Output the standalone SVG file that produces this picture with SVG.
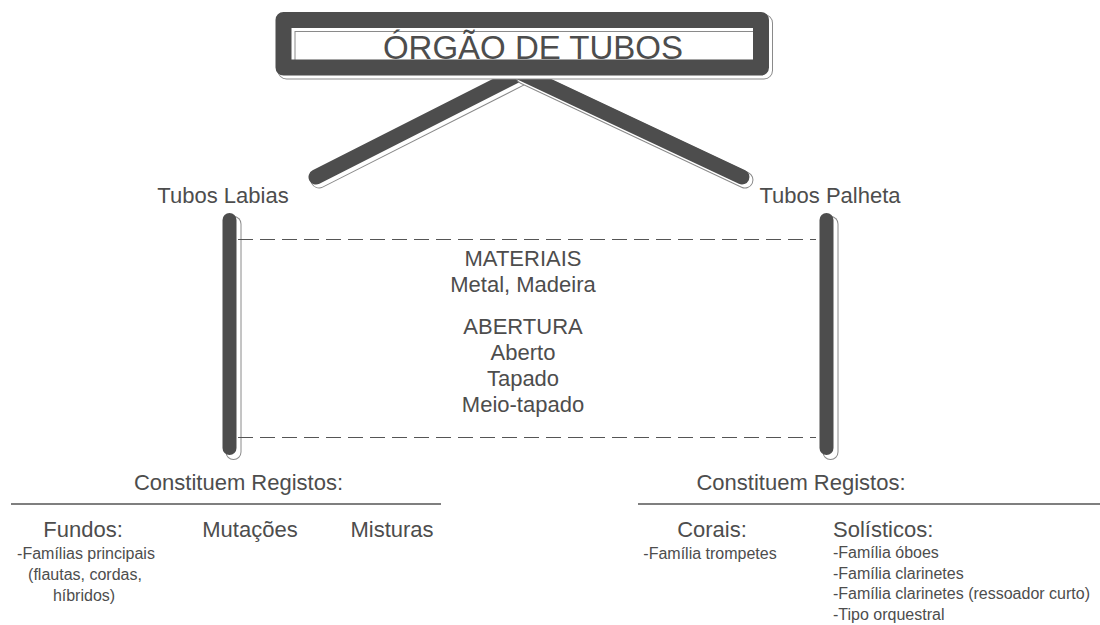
<svg xmlns="http://www.w3.org/2000/svg" width="1100" height="625" viewBox="0 0 1100 625">
<style>
.t{font-family:"Liberation Sans",Arial,sans-serif;fill:#4d4d4d}
.h{font-size:22px}
.s{font-size:16px}
.m{text-anchor:middle}
.so{fill:none;stroke:#8a8a8a;stroke-linecap:round;stroke-linejoin:round}
.si{fill:none;stroke:#ffffff;stroke-linecap:round;stroke-linejoin:round}
.dk{fill:none;stroke:#4d4d4d;stroke-linecap:round;stroke-linejoin:round}
.dash{stroke:#555;stroke-width:1;stroke-dasharray:15 7;fill:none}
.rule{stroke:#555;stroke-width:1.3;fill:none}
</style>
<defs>
<path id="pDL" d="M316,177 L521,73"/>
<path id="pDR" d="M521,73 L742,177"/>
<path id="pVL" d="M229.5,220 L229.5,448"/>
<path id="pVR" d="M826.5,220 L826.5,448"/>
<rect id="pT" x="283.5" y="20" width="477.5" height="47.5"/>
</defs>
<g id="connectors">
  <g id="diag-left">
    <use href="#pDL" class="so" stroke-width="17" transform="translate(3,3)"/>
    <use href="#pDL" class="si" stroke-width="15" transform="translate(3,3)"/>
    <use href="#pDL" class="dk" stroke-width="15"/>
  </g>
  <g id="diag-right">
    <use href="#pDR" class="so" stroke-width="17" transform="translate(3,3)"/>
    <use href="#pDR" class="si" stroke-width="15" transform="translate(3,3)"/>
    <use href="#pDR" class="dk" stroke-width="15"/>
  </g>
  <g id="bar-left">
    <use href="#pVL" class="so" stroke-width="16" transform="translate(4,4)"/>
    <use href="#pVL" class="si" stroke-width="14" transform="translate(4,4)"/>
    <use href="#pVL" class="dk" stroke-width="14"/>
  </g>
  <g id="bar-right">
    <use href="#pVR" class="so" stroke-width="16" transform="translate(4,4)"/>
    <use href="#pVR" class="si" stroke-width="14" transform="translate(4,4)"/>
    <use href="#pVR" class="dk" stroke-width="14"/>
  </g>
  <line class="dash" x1="238" y1="239.5" x2="816" y2="239.5"/>
  <line class="dash" x1="238" y1="437.5" x2="816" y2="437.5"/>
  <line class="rule" x1="11" y1="504" x2="441" y2="504"/>
  <line class="rule" x1="638" y1="504" x2="1100" y2="504"/>
</g>
<g id="title">
  <use href="#pT" class="so" stroke-width="18" transform="translate(3,3)"/>
  <use href="#pT" class="si" stroke-width="16" transform="translate(3,3)"/>
  <use href="#pT" class="dk" stroke-width="16"/>
  <text class="t m" x="533" y="59" font-size="33">ÓRGÃO DE TUBOS</text>
</g>
<g id="tubos-labias">
  <text class="t h m" x="223" y="203">Tubos Labias</text>
</g>
<g id="tubos-palheta">
  <text class="t h m" x="830" y="203">Tubos Palheta</text>
</g>
<g id="caracteristicas">
  <text class="t h m" x="523" y="266">MATERIAIS</text>
  <text class="t h m" x="523" y="292">Metal, Madeira</text>
  <text class="t h m" x="523" y="334">ABERTURA</text>
  <text class="t h m" x="523" y="360">Aberto</text>
  <text class="t h m" x="523" y="386">Tapado</text>
  <text class="t h m" x="523" y="412">Meio-tapado</text>
</g>
<g id="registos-labias">
  <text class="t h m" x="238.5" y="490">Constituem Registos:</text>
</g>
<g id="fundos">
  <text class="t h m" x="83" y="537">Fundos:</text>
  <text class="t s m" x="86" y="559">-Famílias principais</text>
  <text class="t s m" x="85" y="580">(flautas, cordas,</text>
  <text class="t s m" x="84" y="601">híbridos)</text>
</g>
<g id="mutacoes">
  <text class="t h m" x="250" y="537">Mutações</text>
</g>
<g id="misturas">
  <text class="t h m" x="392" y="537">Misturas</text>
</g>
<g id="registos-palheta">
  <text class="t h m" x="801" y="490">Constituem Registos:</text>
</g>
<g id="corais">
  <text class="t h m" x="712" y="537">Corais:</text>
  <text class="t s m" x="710" y="559">-Família trompetes</text>
</g>
<g id="solisticos">
  <text class="t h" x="833" y="537">Solísticos:</text>
  <text class="t s" x="833" y="558">-Família óboes</text>
  <text class="t s" x="833" y="579">-Família clarinetes</text>
  <text class="t s" x="833" y="599">-Família clarinetes (ressoador curto)</text>
  <text class="t s" x="833" y="620">-Tipo orquestral</text>
</g>
</svg>
